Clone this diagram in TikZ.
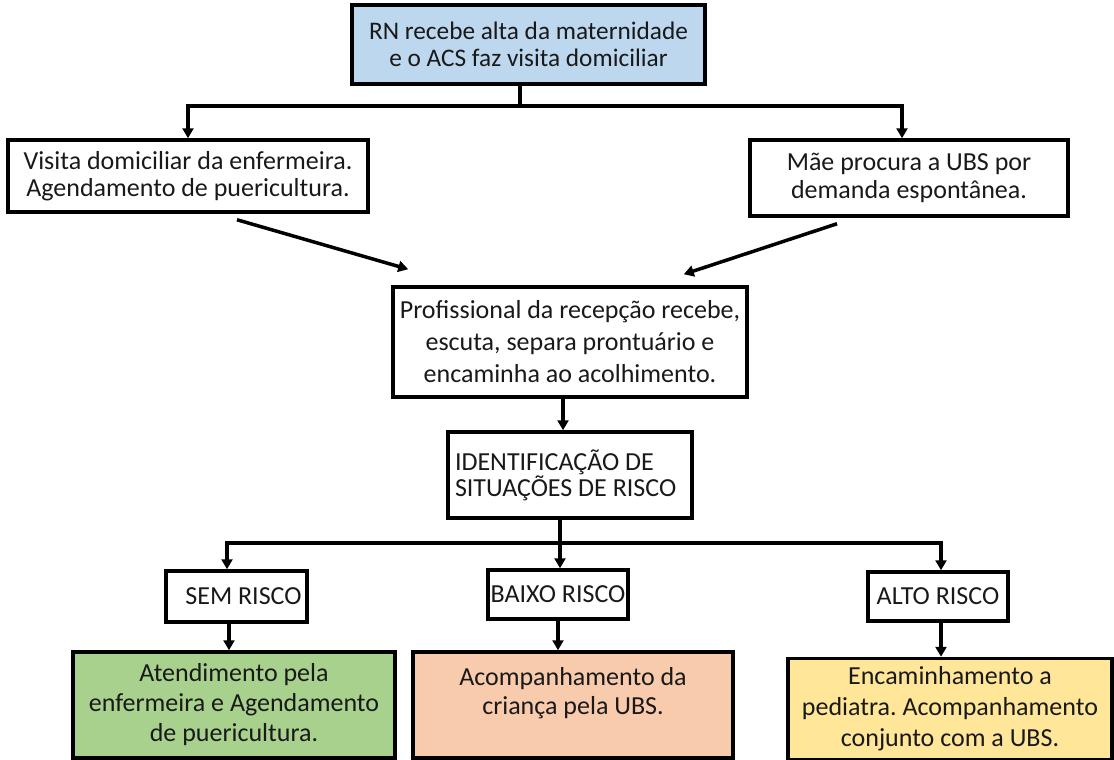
\documentclass[tikz,border=0pt]{standalone}
\usepackage{fontspec}
\setmainfont{Carlito}
\usetikzlibrary{arrows.meta,calc}
\definecolor{boxblue}{HTML}{BDD7EE}
\definecolor{boxgreen}{HTML}{A9D18E}
\definecolor{boxpeach}{HTML}{F8CBAD}
\definecolor{boxyellow}{HTML}{FFE699}
\newcommand{\boxfontat}[2]{\fontsize{#1}{#2}\selectfont\frenchspacing}
\newcommand{\boxfont}[1]{\boxfontat{26}{#1}}
\tikzset{
  box/.style={draw=black, line width=3.5pt, rectangle, inner sep=0pt, align=center,
    font=\boxfont{28}, text=black!90},
  link/.style={line width=3.5pt},
  arr/.style={line width=3.5pt, -{Triangle[width=11pt,length=10pt]}},
}
\begin{document}
\begin{tikzpicture}[x=1pt,y=-1pt]
\useasboundingbox (0,0) rectangle (1114,760);

% upper part
\node[box, fill=boxblue, font=\boxfontat{25.3}{27}, minimum width=353, minimum height=79] (top) at (528.5,44.5)
  {RN recebe alta da maternidade\\e o ACS faz visita domiciliar};
\node[box, font=\boxfont{27}, minimum width=360, minimum height=72] (l1) at (188,176)
  {Visita domiciliar da enfermeira.\\Agendamento de puericultura.};
\node[box, minimum width=318, minimum height=76] (r1) at (909,178)
  {Mãe procura a UBS por\\demanda espontânea.};
\node[box, font=\boxfont{32}, minimum width=354, minimum height=110] (p) at (570,342)
  {Profissional da recepção recebe,\\escuta, separa prontuário e\\encaminha ao acolhimento.};
\node[box, font=\boxfont{26}, minimum width=244, minimum height=86, text width=230, align=flush left] (id) at (570,475)
  {IDENTIFICAÇÃO DE\\SITUAÇÕES DE RISCO};

% risk levels
\node[box, minimum width=141, minimum height=51] (sem) at (236.5,596.5) {\hspace*{14pt}SEM RISCO};
\node[box, minimum width=140, minimum height=49] (baixo) at (558,594.5) {BAIXO RISCO};
\node[box, minimum width=140, minimum height=49] (alto) at (938,596.5) {ALTO RISCO};

% outcomes
\node[box, font=\boxfont{30}, fill=boxgreen, minimum width=322, minimum height=106] (green) at (234,705)
  {Atendimento pela\\enfermeira e Agendamento\\de puericultura.};
\node[box, font=\boxfont{29}, fill=boxpeach, minimum width=320, minimum height=106] (peach) at (573,705)
  {Acompanhamento da\\criança pela UBS.\\\mbox{}};
\node[box, font=\boxfont{31}, fill=boxyellow, minimum width=324, minimum height=101] (yellow) at (950,709)
  {Encaminhamento a\\pediatra. Acompanhamento\\conjunto com a UBS.};

% connectors: first split
\coordinate (topout) at ([xshift=-8.5pt]top.south);
\coordinate (split1) at (topout |- 0,106);
\draw[link] (topout) -- (split1);
\draw[arr] (split1) -| (l1.north);
\draw[arr] (split1) -| ([xshift=-7pt]r1.north);

% converging arrows
\draw[arr] ([shift={(49,6)}]l1.south) -- ([shift={(17,-16)}]p.north west);
\draw[arr] ([shift={(-72,6)}]r1.south) -- ([shift={(-65,-11)}]p.north east);

\draw[arr] ([xshift=-7pt]p.south) -- ([xshift=-7pt]id.north);

% second split
\coordinate (idout) at ([xshift=-10pt]id.south);
\coordinate (split2) at (idout |- 0,543);
\draw[link] (idout) -- (split2);
\draw[arr] (split2) -| ([xshift=-9.5pt]sem.north);
\draw[arr] (split2) -- (split2 |- baixo.north);
\draw[arr] (split2) -| ([xshift=3pt]alto.north);

% risk level to outcome
\coordinate (semout) at ([xshift=-7.5pt]sem.south);
\draw[arr] (semout) -- (semout |- green.north);
\draw[arr] (baixo.south) -- (baixo.south |- peach.north);
\coordinate (altoout) at ([xshift=3pt]alto.south);
\draw[arr] (altoout) -- (altoout |- yellow.north);
\end{tikzpicture}
\end{document}
